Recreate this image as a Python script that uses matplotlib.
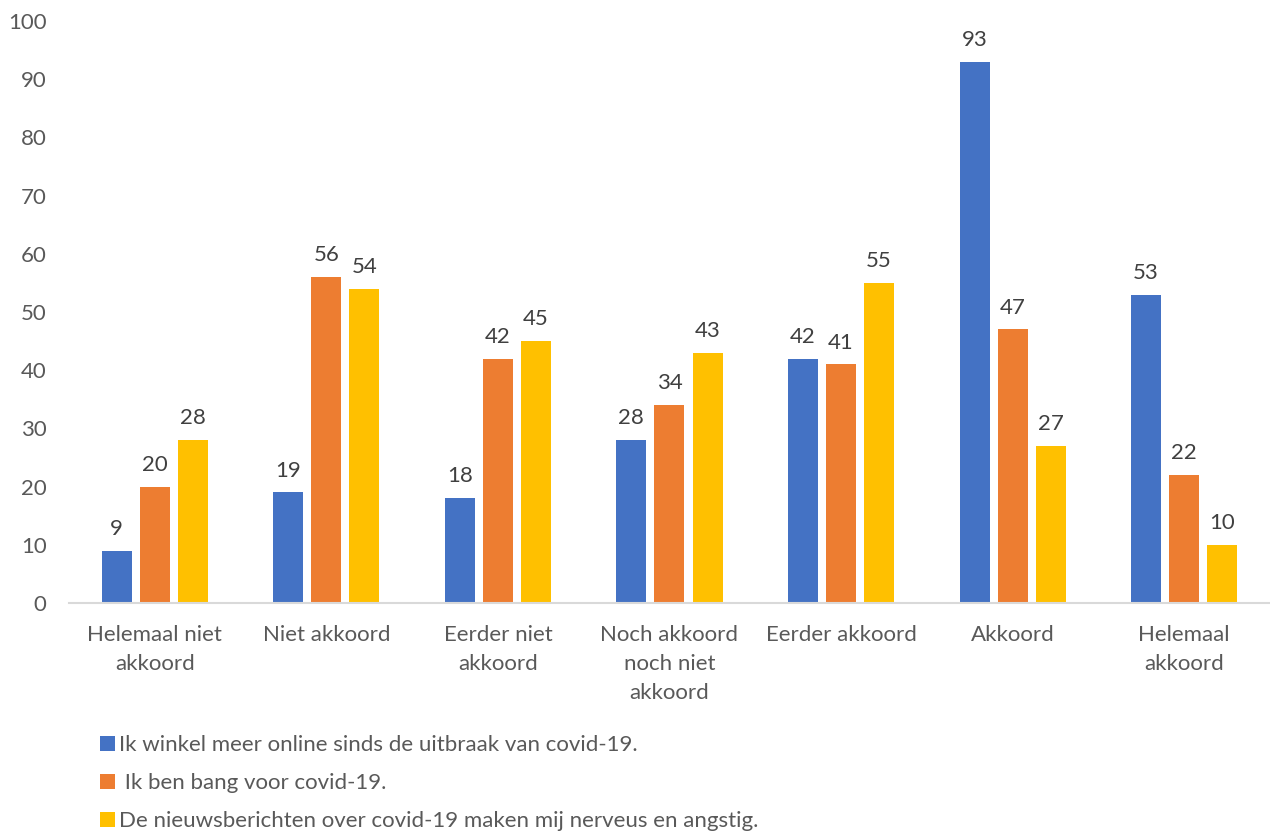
import matplotlib
matplotlib.use("Agg")
import matplotlib.pyplot as plt
import numpy as np
from matplotlib.patches import Patch

categories = ["Helemaal niet\nakkoord", "Niet akkoord", "Eerder niet\nakkoord",
              "Noch akkoord\nnoch niet\nakkoord", "Eerder akkoord", "Akkoord",
              "Helemaal\nakkoord"]
series_names = ["Ik winkel meer online sinds de uitbraak van covid-19.",
                " Ik ben bang voor covid-19.",
                "De nieuwsberichten over covid-19 maken mij nerveus en angstig."]
online = [9, 19, 18, 28, 42, 93, 53]
bang = [20, 56, 42, 34, 41, 47, 22]
nieuws = [28, 54, 45, 43, 55, 27, 10]
colors = ["#4472C4", "#ED7D31", "#FFC000"]
yticks = [0, 10, 20, 30, 40, 50, 60, 70, 80, 90, 100]

plt.rcParams['font.family'] = ['Lato', 'DejaVu Sans']
fig = plt.figure(figsize=(12.7, 8.32), dpi=100)
ax = fig.add_axes([0.0543, 0.2752, 0.9457, 0.6996])

x = np.arange(len(categories))
width = 0.175
step = 0.222
for i, (vals, col, name) in enumerate(zip([online, bang, nieuws], colors, series_names)):
    b = ax.bar(x + (i - 1) * step, vals, width, color=col, label=name)
    for rect, v in zip(b, vals):
        ax.annotate(str(v), (rect.get_x() + rect.get_width() / 2, v),
                    xytext=(0, 8.5), textcoords="offset points",
                    ha="center", va="bottom", fontsize=16, color="#404040")

ax.set_xlim(-0.5, len(categories) - 0.5)
ax.set_ylim(0, 100)
ax.set_yticks(yticks)
ax.set_yticklabels([str(t) for t in yticks], fontsize=16, color="#595959")
ax.set_xticks(x)
ax.set_xticklabels(categories, fontsize=16, color="#595959", linespacing=1.55)
ax.tick_params(axis='both', length=0)
ax.tick_params(axis='x', pad=16)
ax.tick_params(axis='y', pad=16)
for s in ["top", "right", "left"]:
    ax.spines[s].set_visible(False)
ax.spines["bottom"].set_color("#D9D9D9")
ax.spines["bottom"].set_linewidth(1.5)

handles = [Patch(facecolor=c) for c in colors]
leg = fig.legend(handles, series_names, loc="upper left",
                 bbox_to_anchor=(0.079, 0.116), bbox_transform=fig.transFigure,
                 frameon=False, fontsize=16, handlelength=0.65, handleheight=0.65,
                 handletextpad=0.2, labelspacing=0.8, borderaxespad=0, borderpad=0)
for t in leg.get_texts():
    t.set_color("#595959")

fig.savefig("out.png", dpi=100)
